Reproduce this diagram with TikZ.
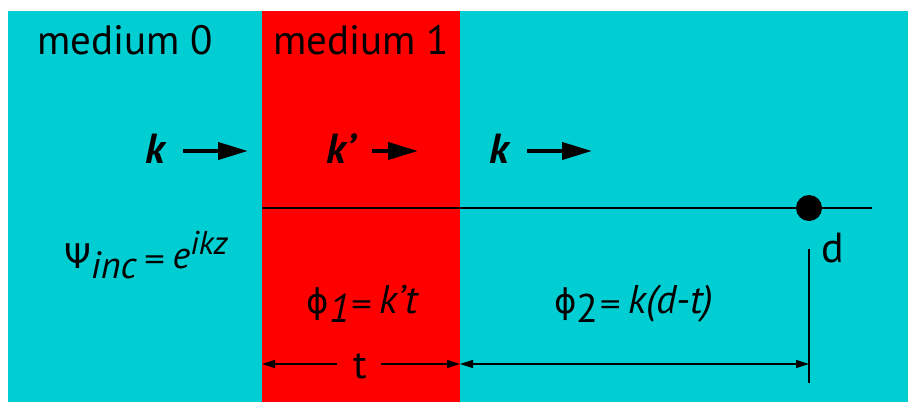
\documentclass[tikz,border=0pt]{standalone}
\usepackage{fontspec}
\setmainfont{PT Sans}
\newfontfamily\grk{DejaVu Sans}
\usetikzlibrary{arrows.meta}
\definecolor{cyanbg}{RGB}{0,206,210}
\definecolor{redbg}{RGB}{255,0,0}
\newcommand{\eqsign}{{\grk\fontsize{28}{30}\selectfont =}}
\begin{document}
\begin{tikzpicture}[x=1pt,y=-1pt,
  lbl/.style={inner sep=0pt, anchor=base},
  karrow/.style={line width=4pt, -{Triangle[length=30pt,width=17pt]}},
  dimtip/.style={line width=1.3pt, -{Triangle[length=13pt,width=8pt]}},
  dimarrow/.style={line width=1.3pt, {Triangle[length=13pt,width=8pt]}-{Triangle[length=13pt,width=8pt]}},
  thinline/.style={line width=1.6pt},
  title/.style={lbl, font=\fontsize{41}{44}\selectfont},
  kvec/.style={lbl, font=\fontsize{42}{46}\selectfont\bfseries\itshape},
]
\useasboundingbox (0,0) rectangle (908,402);
\fill[cyanbg] (8,11) rectangle (908,402);
\fill[redbg] (262,11) rectangle (460,402);

% titles
\node[title] (m0) at (125,54) {medium 0};
\node[title] (m1) at (361,54) {medium 1};

% wave vectors
\node[kvec] (k0) at (155,163) {k};
\node[kvec] (k1) at (341,163) {k’};
\node[kvec] (k2) at (499,163) {k};
\coordinate (a0s) at (183,151); \coordinate (a0e) at (248,151);
\coordinate (a1s) at (372,151); \coordinate (a1e) at (418,151);
\coordinate (a2s) at (527,151); \coordinate (a2e) at (592,151);
\draw[karrow] (a0s) -- (a0e);
\draw[karrow] (a1s) -- (a1e);
\draw[karrow] (a2s) -- (a2e);

% axis line and point d
\coordinate (ls) at (262,208);
\coordinate (le) at (872,208);
\draw[thinline] (ls) -- (le);
\node[circle, fill=black, inner sep=0pt, minimum size=26pt] (dot) at (809,208) {};
\node[lbl, font=\fontsize{42}{46}\selectfont] (dlab) at (833,262) {d};
\coordinate (vt) at (809,249);
\coordinate (vb) at (809,383);
\draw[thinline] (vt) -- (vb);

% incident wave
\node[lbl, font=\fontsize{38}{42}\selectfont] (psi) at (146,268)
  {{\grk\fontsize{34}{38}\selectfont Ψ}\raisebox{-10pt}{\itshape inc}\,\eqsign\,\textit{e}\raisebox{14pt}{\fontsize{33}{36}\selectfont\itshape ikz}};

% phases
\node[lbl, font=\fontsize{40}{44}\selectfont] (ph1) at (363,313)
  {{\grk\fontsize{34}{38}\selectfont ϕ}\raisebox{-9pt}{\itshape 1}\eqsign\,\textit{k’t}};
\node[lbl, font=\fontsize{40}{44}\selectfont] (ph2) at (634,313)
  {{\grk\fontsize{34}{38}\selectfont ϕ}\raisebox{-9pt}{2}\eqsign\,\textit{k(d-t)}};

% dimension arrows
\node[lbl, font=\fontsize{40}{44}\selectfont] (tlab) at (360,378) {t};
\coordinate (t1l) at (262,364); \coordinate (t1r) at (337,364);
\coordinate (t2l) at (381,364); \coordinate (t2r) at (460,364);
\draw[dimtip] (t1r) -- (t1l);
\draw[dimtip] (t2l) -- (t2r);
\coordinate (p2l) at (460,364); \coordinate (p2r) at (809,364);
\draw[dimarrow] (p2l) -- (p2r);
\end{tikzpicture}
\end{document}
